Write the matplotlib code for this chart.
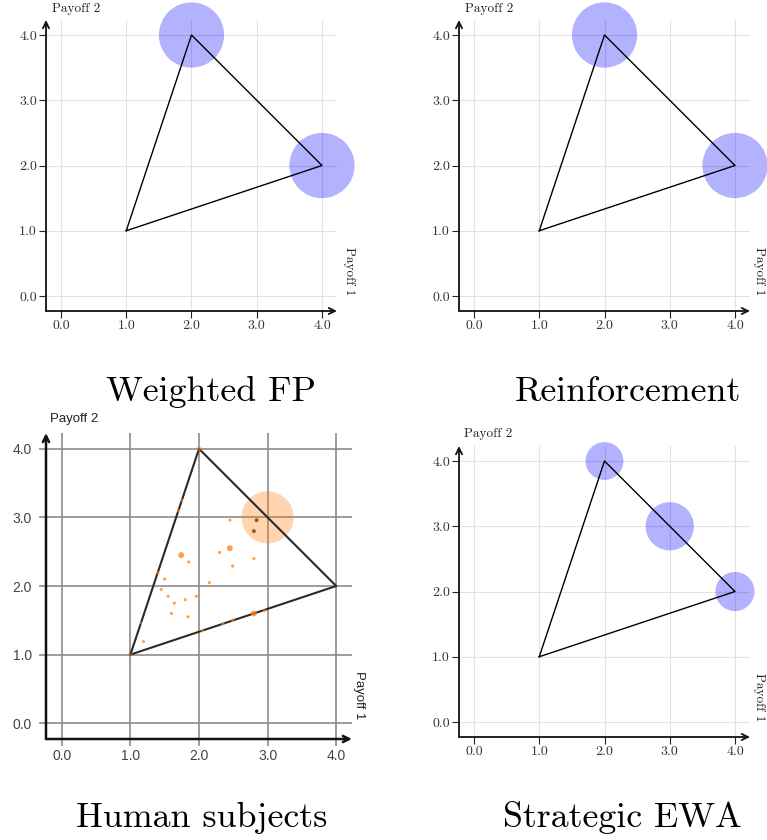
import matplotlib
matplotlib.use("Agg")
import matplotlib.pyplot as plt
from matplotlib.patches import Circle

# ---------------- data ----------------
tri_x = [1.0, 2.0, 4.0]
tri_y = [1.0, 4.0, 2.0]
tick_vals = [0.0, 1.0, 2.0, 3.0, 4.0]
tick_labels = ["0.0", "1.0", "2.0", "3.0", "4.0"]
titles = ["Weighted FP", "Reinforcement", "Human subjects", "Strategic EWA"]

wfp_x = [2.0, 4.0]
wfp_y = [4.0, 2.0]
wfp_r = [0.5, 0.5]

rei_x = [2.0, 4.0]
rei_y = [4.0, 2.0]
rei_r = [0.5, 0.5]

ewa_x = [2.0, 3.0, 4.0]
ewa_y = [4.0, 3.0, 2.0]
ewa_r = [0.29, 0.37, 0.30]

hum_big_x = [3.0]
hum_big_y = [3.0]
hum_big_r = [0.38]

hum_x = [1.75, 1.70, 2.45, 2.30, 1.74, 1.85, 2.80, 2.49, 1.40, 1.50, 2.15,
         1.45, 1.55, 1.96, 1.80, 1.64, 1.60, 1.84, 2.80, 2.95, 2.49, 2.35,
         2.05, 1.19, 2.45, 1.15]
hum_y = [3.25, 3.10, 2.96, 2.49, 2.45, 2.35, 2.40, 2.29, 2.19, 2.10, 2.05,
         1.95, 1.85, 1.85, 1.80, 1.75, 1.60, 1.55, 1.60, 1.64, 1.50, 1.45,
         1.35, 1.19, 2.55, 1.46]
hum_s = [5, 5, 5, 5, 18, 5, 5, 5, 5, 5, 5,
         5, 5, 5, 5, 5, 5, 5, 18, 5, 5, 5,
         5, 5, 18, 3]
hum_vertex_x = [2.0, 1.0]
hum_vertex_y = [4.0, 1.0]
hum_vertex_s = [14, 8]
hum_dark_x = [2.84, 2.80]
hum_dark_y = [2.96, 2.80]

# ---------------- layout ----------------
W, H = 767, 840
fig = plt.figure(figsize=(W / 100, H / 100), dpi=100)
SERIF = "cmr10"
SANS = "Liberation Sans"


def box(l, r, t, b):
    return [l / W, 1 - b / H, (r - l) / W, (b - t) / H]


def make_axes(rect, style):
    ax = fig.add_axes(rect)
    ax.set_xlim(-0.23, 4.23)
    ax.set_ylim(-0.23, 4.23)
    for s in ax.spines.values():
        s.set_visible(False)
    ax.set_xticks(tick_vals)
    ax.set_yticks(tick_vals)
    ax.set_xticklabels(tick_labels)
    ax.set_yticklabels(tick_labels)
    if style == "serif":
        ax.grid(True, color="#e2e2e2", lw=0.8)
        ax.tick_params(direction="out", length=5, width=0.8, color="#222222",
                       labelsize=10, pad=1.5, labelcolor="#333333")
        for lab in ax.get_xticklabels() + ax.get_yticklabels():
            lab.set_family(SERIF)
        lw_axis = 1.3
        acol = "#111111"
    else:
        ax.grid(True, color="#8c8c8c", lw=1.2)
        ax.tick_params(direction="out", length=5, width=1.2, color="#8c8c8c",
                       labelsize=10, pad=5, labelcolor="#444444")
        ax.tick_params(axis="x", pad=2)
        for lab in ax.get_xticklabels() + ax.get_yticklabels():
            lab.set_family(SANS)
        lw_axis = 1.8
        acol = "#111111"
    ax.set_axisbelow(True)
    ap = dict(arrowstyle="->,head_length=0.45,head_width=0.22", lw=lw_axis,
              color=acol, shrinkA=0, shrinkB=0)
    ax.annotate("", xy=(1, 0), xytext=(0, 0), xycoords="axes fraction",
                textcoords="axes fraction", arrowprops=ap, zorder=5)
    ax.annotate("", xy=(0, 1), xytext=(0, 0), xycoords="axes fraction",
                textcoords="axes fraction", arrowprops=ap, zorder=5)
    return ax


def triangle(ax, color="black", lw=1.0):
    ax.plot(tri_x + tri_x[:1], tri_y + tri_y[:1], color=color, lw=lw, zorder=4)


def circles(ax, xs, ys, rs, color, alpha):
    for x, y, r in zip(xs, ys, rs):
        ax.add_patch(Circle((x, y), r, facecolor=color, edgecolor="none",
                            alpha=alpha, clip_on=False, zorder=3))


# Panel 1: Weighted FP
ax1 = make_axes(box(46, 337, 20, 311), "serif")
triangle(ax1)
circles(ax1, wfp_x, wfp_y, wfp_r, "#0000ff", 0.3)

# Panel 2: Reinforcement
ax2 = make_axes(box(459, 750, 20, 311), "serif")
triangle(ax2)
circles(ax2, rei_x, rei_y, rei_r, "#0000ff", 0.3)

# Panel 3: Human subjects
ax3 = make_axes(box(46, 352, 433, 739), "sans")
triangle(ax3, color="#2a2a2a", lw=1.5)
circles(ax3, hum_big_x, hum_big_y, hum_big_r, "#ff7f0e", 0.33)
ax3.scatter(hum_x, hum_y, s=hum_s, color="#ff7f0e", alpha=0.75,
            edgecolors="none", zorder=6, clip_on=False)
ax3.scatter(hum_vertex_x, hum_vertex_y, s=hum_vertex_s, color="#ff7f0e",
            alpha=0.45, edgecolors="none", zorder=6, clip_on=False)
ax3.scatter(hum_dark_x, hum_dark_y, s=8, color="#8a4a1c", alpha=0.9,
            edgecolors="none", zorder=6)

# Panel 4: Strategic EWA
ax4 = make_axes(box(459, 750, 446, 737), "serif")
triangle(ax4)
circles(ax4, ewa_x, ewa_y, ewa_r, "#0000ff", 0.3)

# ---------------- texts ----------------
def ftext(x, y, s, **kw):
    fig.text(x / W, 1 - y / H, s, **kw)


# axis names
ftext(52, 9, "Payoff 2", family=SERIF, fontsize=9.5, ha="left", va="center", color="#222222")
ftext(465, 9, "Payoff 2", family=SERIF, fontsize=9.5, ha="left", va="center", color="#222222")
ftext(464, 434, "Payoff 2", family=SERIF, fontsize=9.5, ha="left", va="center", color="#222222")
ftext(50, 419, "Payoff 2", family=SANS, fontsize=9.5, ha="left", va="center", color="#222222")

ftext(349, 271, "Payoff 1", family=SERIF, fontsize=9.5, rotation=-90, ha="center", va="center", color="#222222")
ftext(759, 271, "Payoff 1", family=SERIF, fontsize=9.5, rotation=-90, ha="center", va="center", color="#222222")
ftext(759, 697, "Payoff 1", family=SERIF, fontsize=9.5, rotation=-90, ha="center", va="center", color="#222222")
ftext(359, 695, "Payoff 1", family=SANS, fontsize=9.5, rotation=-90, ha="center", va="center", color="#222222")

# panel titles
ftext(211, 401, titles[0], family=SERIF, fontsize=25.8, ha="center", va="baseline")
ftext(628, 401, titles[1], family=SERIF, fontsize=25.8, ha="center", va="baseline")
ftext(202, 827, titles[2], family=SERIF, fontsize=25.8, ha="center", va="baseline")
ftext(622, 827, titles[3], family=SERIF, fontsize=25.8, ha="center", va="baseline")

fig.savefig("out.png", dpi=100)
